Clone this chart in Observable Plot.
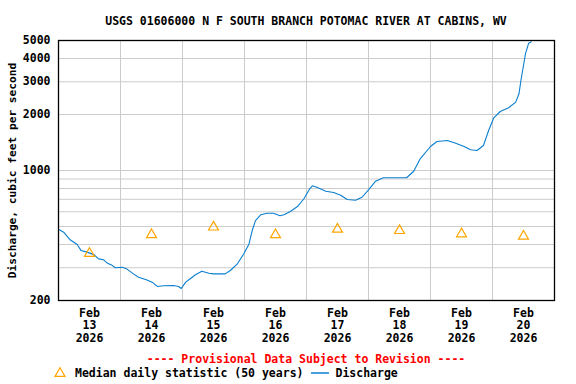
<!DOCTYPE html>
<html>
<head>
<meta charset="utf-8">
<script src="https://cdn.jsdelivr.net/npm/d3@7"></script>
<script src="https://cdn.jsdelivr.net/npm/@observablehq/plot@0.6"></script>
<style>
  html, body { margin: 0; padding: 0; background: #fff; }
  #wrap { position: relative; width: 576px; height: 384px; overflow: hidden;
          font-family: "DejaVu Sans Mono", monospace; font-weight: bold; font-size: 11.5px; }
  #title { position: absolute; left: 58px; width: 496px; top: 14px; text-align: center; line-height: 14px; color: #000; }
  #chart { position: absolute; left: 0; top: 30px; }
  #prov { position: absolute; left: 58px; width: 496px; top: 352px; text-align: center; color: #ff0000; line-height: 14px; }
  #legend { position: absolute; left: 53px; top: 366px; line-height: 14px; color: #000; white-space: nowrap; display: flex; align-items: center; }
  #legend svg { display: block; }
</style>
</head>
<body>
<div id="wrap">
  <div id="title"></div>
  <div id="chart"></div>
  <div id="prov"></div>
  <div id="legend"></div>
</div>
<script>
// ---- data ----
const titleText = "USGS 01606000 N F SOUTH BRANCH POTOMAC RIVER AT CABINS, WV";
const yLabel = "Discharge, cubic feet per second";
const provisionalText = "---- Provisional Data Subject to Revision ----";
const medianLabel = "Median daily statistic (50 years)";
const dischargeLabel = "Discharge";

const dischargeTimes = [
  "2026-02-13T00:00","2026-02-13T02:00","2026-02-13T04:30","2026-02-13T07:15","2026-02-13T08:45",
  "2026-02-13T11:00","2026-02-13T13:45","2026-02-13T15:30","2026-02-13T17:30","2026-02-13T19:00",
  "2026-02-13T20:45","2026-02-13T22:00","2026-02-14T00:45","2026-02-14T02:30","2026-02-14T05:00",
  "2026-02-14T07:00","2026-02-14T10:15","2026-02-14T12:15","2026-02-14T14:15","2026-02-14T16:45",
  "2026-02-14T20:30","2026-02-14T22:30","2026-02-14T23:30","2026-02-15T01:15","2026-02-15T03:00",
  "2026-02-15T05:00","2026-02-15T07:30","2026-02-15T10:15","2026-02-15T12:00","2026-02-15T16:30",
  "2026-02-15T18:30","2026-02-15T21:15","2026-02-15T23:45","2026-02-16T01:45","2026-02-16T03:00",
  "2026-02-16T04:15","2026-02-16T06:15","2026-02-16T08:45","2026-02-16T11:15","2026-02-16T13:45",
  "2026-02-16T15:15","2026-02-16T17:45","2026-02-16T20:30","2026-02-16T23:00","2026-02-17T01:15",
  "2026-02-17T02:15","2026-02-17T04:00","2026-02-17T07:30","2026-02-17T10:30","2026-02-17T13:15",
  "2026-02-17T15:45","2026-02-17T19:00","2026-02-17T21:30","2026-02-18T00:00","2026-02-18T02:45",
  "2026-02-18T05:45","2026-02-18T14:45","2026-02-18T17:30","2026-02-18T20:00","2026-02-19T00:00",
  "2026-02-19T02:30","2026-02-19T06:30","2026-02-19T09:45","2026-02-19T13:00","2026-02-19T15:30",
  "2026-02-19T18:00","2026-02-19T20:30","2026-02-19T22:30","2026-02-20T00:30","2026-02-20T03:00",
  "2026-02-20T06:15","2026-02-20T09:00","2026-02-20T10:15","2026-02-20T11:00","2026-02-20T12:00",
  "2026-02-20T12:45","2026-02-20T14:00","2026-02-20T15:00"
];
const dischargeValues = [
  483, 466, 424, 400, 371,
  364, 353, 335, 331, 317,
  309, 300, 302, 295, 278,
  267, 258, 251, 238, 240,
  241, 238, 232, 251, 262,
  275, 287, 280, 278, 278,
  290, 315, 357, 403, 476,
  538, 578, 589, 589, 571,
  578, 602, 640, 705, 797,
  827, 813, 774, 761, 736,
  698, 692, 718, 787, 876,
  914, 914, 991, 1156, 1346,
  1432, 1450, 1402, 1346, 1292,
  1281, 1363, 1641, 1920, 2076,
  2174, 2330, 2584, 3047, 3668,
  4241, 4835, 4920
];

const medianDays = ["2026-02-13","2026-02-14","2026-02-15","2026-02-16","2026-02-17","2026-02-18","2026-02-19","2026-02-20"];
const medianValues = [358, 451, 496, 451, 483, 475, 456, 443];

const dayTicks = ["2026-02-13","2026-02-14","2026-02-15","2026-02-16","2026-02-17","2026-02-18","2026-02-19","2026-02-20","2026-02-21"];
const yTickLabels = [200, 1000, 2000, 3000, 4000, 5000];
const yGridValues = [300, 400, 500, 600, 700, 800, 900, 1000, 2000, 3000, 4000];
const yDomain = [200, 5000];

// ---- build ----
const parseT = s => new Date(s + (s.length === 10 ? "T00:00" : ""));
const discharge = dischargeTimes.map((t, i) => ({t: parseT(t), v: dischargeValues[i]}));
const medians = medianDays.map((d, i) => ({t: new Date(+parseT(d) + 12 * 3600e3), v: medianValues[i]}));
const gridDates = dayTicks.map(parseT);
const labelDates = medianDays.map(d => new Date(+parseT(d) + 12 * 3600e3));
const mon = d3.timeFormat("%b"), dd = d3.timeFormat("%d"), yy = d3.timeFormat("%Y");

const lineColor = "#0a7fd0";
const medColor = "#ffa500";
const gridColor = "#cccccc";

const chart = Plot.plot({
  width: 576,
  height: 315,
  marginLeft: 58,
  marginRight: 22,
  marginTop: 10,
  marginBottom: 45,
  style: {fontFamily: "DejaVu Sans Mono, monospace", fontSize: "11.5px", fontWeight: "bold", background: "#fff", color: "#000"},
  x: {type: "time", domain: [gridDates[0], gridDates[gridDates.length - 1]]},
  y: {type: "log", domain: yDomain},
  marks: [
    Plot.gridX(gridDates, {stroke: gridColor, strokeOpacity: 1, strokeWidth: 1}),
    Plot.gridY(yGridValues, {stroke: gridColor, strokeOpacity: 1, strokeWidth: 1}),
    Plot.axisX(labelDates, {
      tickSize: 0, tickPadding: 8, label: null,
      tickFormat: d => `${mon(d)}\n${dd(d)}\n${yy(d)}`,
      lineHeight: 1.06, fontWeight: "bold"
    }),
    Plot.axisY(yTickLabels, {tickSize: 0, tickPadding: 8, label: null, tickFormat: d => String(d), fontWeight: "bold"}),
    Plot.text([yLabel], {frameAnchor: "left", textAnchor: "middle", lineAnchor: "middle", dx: -46, rotate: -90, fontWeight: "bold", fontSize: 11.2, fill: "#000"}),
    Plot.line(discharge, {x: "t", y: "v", stroke: lineColor, strokeWidth: 1.1, curve: "linear"}),
    Plot.dot(medians, {x: "t", y: "v", symbol: "triangle", r: 3.7, stroke: medColor, strokeWidth: 1.2, fill: "none"}),
    Plot.frame({stroke: "#000", strokeWidth: 1.3})
  ]
});
document.getElementById("chart").appendChild(chart);

document.getElementById("title").textContent = titleText;
document.getElementById("prov").textContent = provisionalText;

const legend = document.getElementById("legend");
const ns = "http://www.w3.org/2000/svg";
function mk(tag, attrs) { const e = document.createElementNS(ns, tag); for (const k in attrs) e.setAttribute(k, attrs[k]); return e; }
const tri = mk("svg", {width: 14, height: 14});
const sym = d3.symbol(d3.symbolTriangle, 3.7 * 3.7 * Math.PI)();
tri.appendChild(mk("path", {d: sym, transform: "translate(7,7.5)", fill: "none", stroke: medColor, "stroke-width": 1.2}));
legend.appendChild(tri);
const s1 = document.createElement("span"); s1.textContent = medianLabel; s1.style.marginLeft = "8px"; legend.appendChild(s1);
const ln = mk("svg", {width: 32, height: 14});
ln.appendChild(mk("line", {x1: 8, x2: 26, y1: 7, y2: 7, stroke: lineColor, "stroke-width": 1.5}));
legend.appendChild(ln);
const s2 = document.createElement("span"); s2.textContent = dischargeLabel; legend.appendChild(s2);
</script>
</body>
</html>
